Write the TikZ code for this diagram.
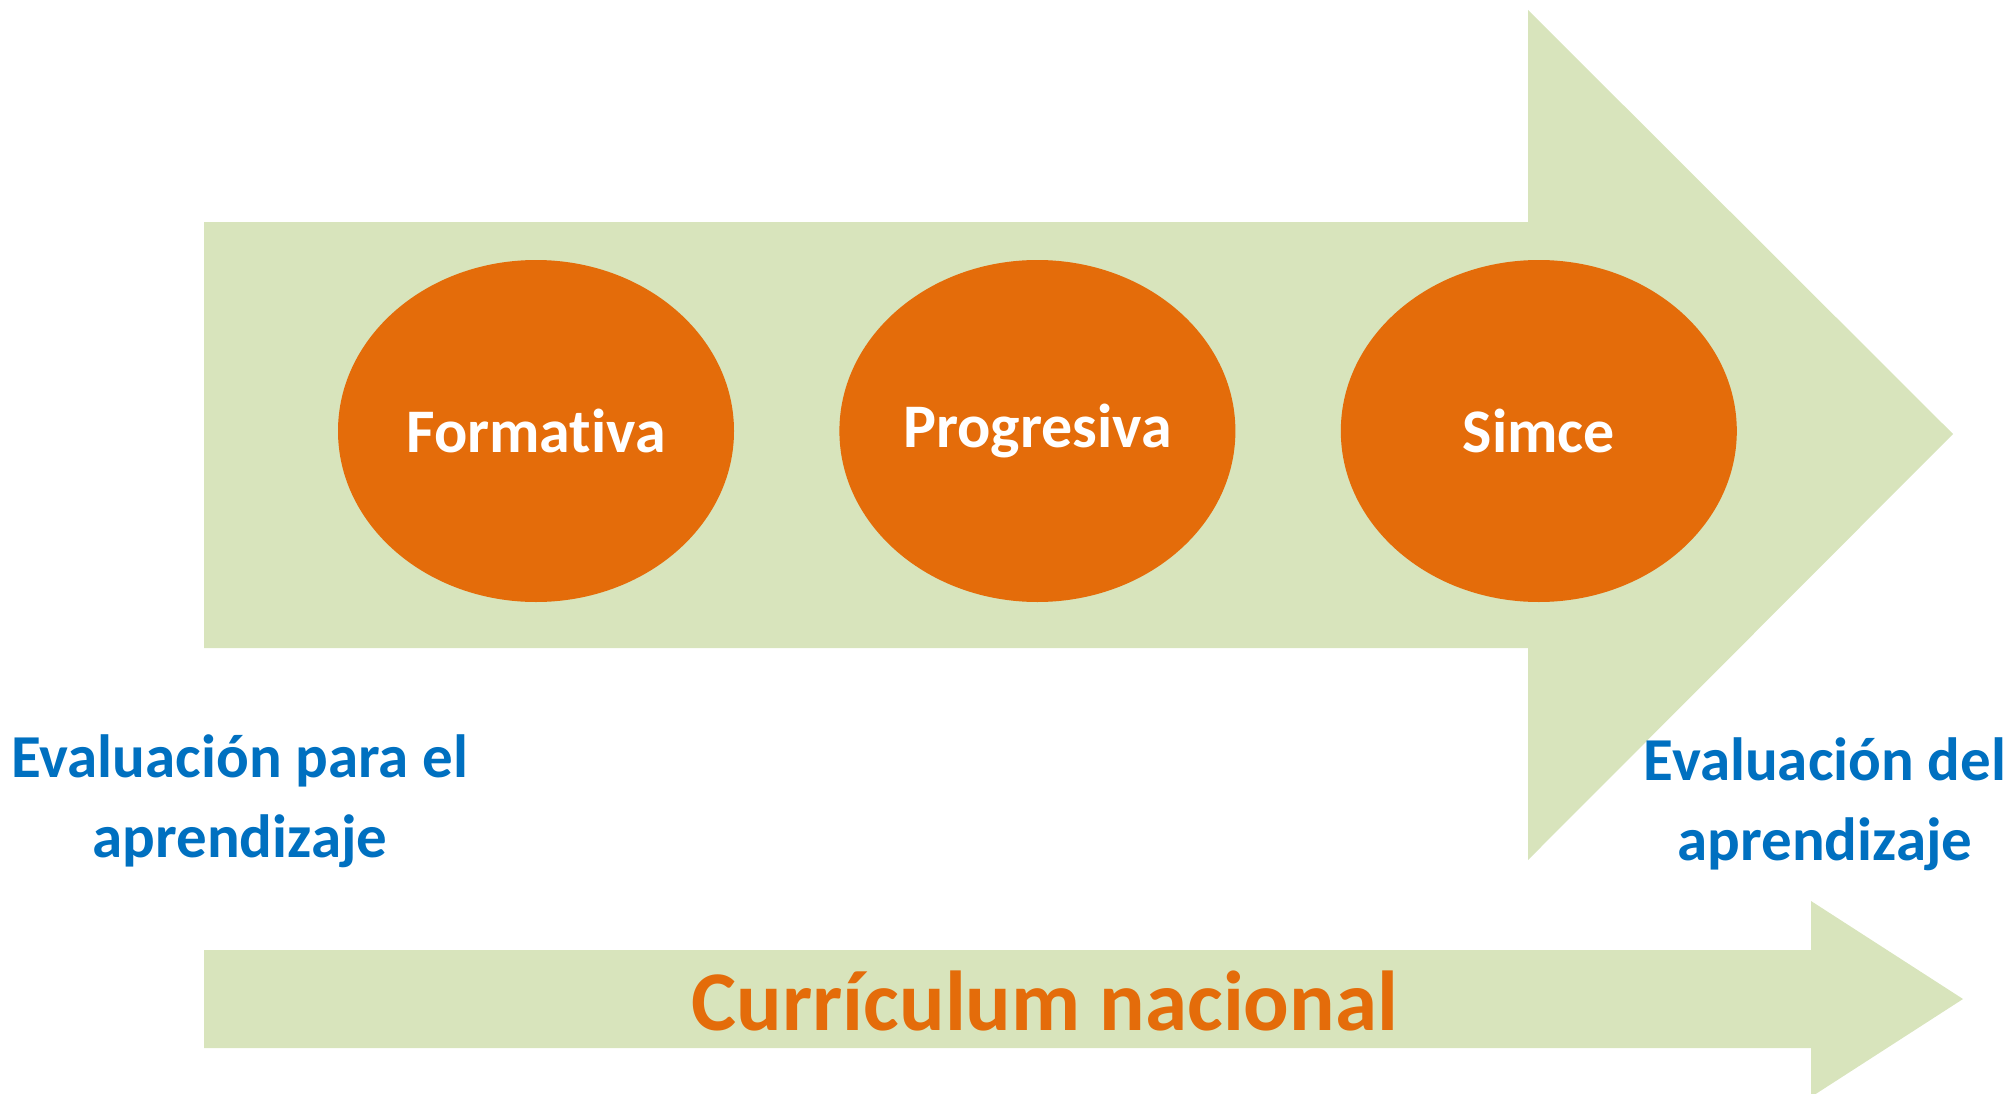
\documentclass[tikz,border=0pt]{standalone}
\usepackage{fontspec}
\setmainfont{Carlito}[Ligatures=NoCommon]
\usetikzlibrary{shapes.geometric,positioning}
\definecolor{arrowgreen}{RGB}{216,228,188}
\definecolor{evalorange}{RGB}{228,108,10}
\definecolor{evalblue}{RGB}{0,112,192}

\begin{document}
\begin{tikzpicture}[x=1pt,y=-1pt,
  stage/.style={ellipse,fill=evalorange,minimum width=396pt,minimum height=342pt,
    inner sep=0pt,text=white,font=\fontsize{62}{74}\selectfont\bfseries},
  evallabel/.style={align=center,text=evalblue,font=\fontsize{61}{80}\selectfont\bfseries}]
  \useasboundingbox (0,0) rectangle (2012,1094);

  %big arrow
  \fill[arrowgreen] (204,222) -- (1528,222) -- (1528,10) -- (1953,434)
    -- (1528,860) -- (1528,648) -- (204,648) -- cycle;

  %small arrow
  \fill[arrowgreen] (204,950) -- (1811,950) -- (1811,901) -- (1963,999)
    -- (1811,1097) -- (1811,1048) -- (204,1048) -- cycle;

  %stages
  \node[stage] (form) at (536,431) {Formativa};
  \node[stage,right=105pt of form] (prog) {Progresiva};
  \node[stage,right=105pt of prog] (simce) {Simce};

  %labels
  \node[evallabel] (para) at (240,801) {Evaluación para el\\aprendizaje};
  \node[evallabel] (del) at (1825,804) {Evaluación del\\aprendizaje};
  \node[text=evalorange,font=\fontsize{85}{100}\selectfont\bfseries] (curr) at (1045,1001) {Currículum nacional};
\end{tikzpicture}
\end{document}
